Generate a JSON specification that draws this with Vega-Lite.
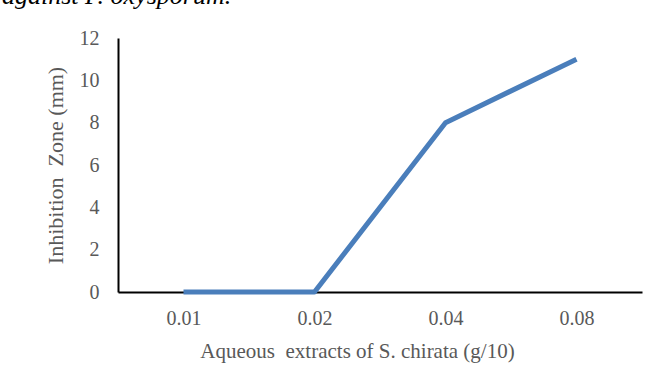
{
  "$schema": "https://vega.github.io/schema/vega-lite/v6.json",
  "autosize": "none",
  "width": 524,
  "height": 254,
  "padding": {"left": 118, "top": 38, "right": 23, "bottom": 100},
  "background": "white",
  "title": {
    "text": "against F. oxysporum.",
    "font": "Liberation Serif",
    "fontSize": 26,
    "fontStyle": "italic",
    "fontWeight": "normal",
    "color": "black",
    "anchor": "start",
    "baseline": "alphabetic",
    "offset": 0,
    "dx": -42,
    "dy": 2
  },
  "data": {
    "values": [
      {"conc": "0.01", "zone": 0},
      {"conc": "0.02", "zone": 0},
      {"conc": "0.04", "zone": 8},
      {"conc": "0.08", "zone": 11}
    ]
  },
  "mark": {"type": "line", "color": "#4a7ebb", "strokeWidth": 5, "strokeCap": "butt", "strokeJoin": "round"},
  "encoding": {
    "x": {
      "field": "conc",
      "type": "ordinal",
      "sort": null,
      "scale": {"type": "point", "padding": 0.5},
      "axis": {
        "title": "Aqueous\u00a0 extracts of S. chirata (g/10)",
        "labelAngle": 0,
        "ticks": false,
        "domainColor": "black",
        "domainWidth": 2,
        "labelPadding": 16,
        "titlePadding": 12,
        "titleX": 239,
        "titleAlign": "center",
        "labelFont": "Liberation Serif",
        "labelFontSize": 20,
        "labelColor": "#595959",
        "titleFont": "Liberation Serif",
        "titleFontSize": 21,
        "titleFontWeight": "normal",
        "titleColor": "#595959"
      }
    },
    "y": {
      "field": "zone",
      "type": "quantitative",
      "scale": {"domain": [0, 12]},
      "axis": {
        "title": "Inhibition\u00a0 Zone (mm)",
        "values": [0, 2, 4, 6, 8, 10, 12],
        "grid": false,
        "ticks": false,
        "domainColor": "black",
        "domainWidth": 2,
        "labelPadding": 19,
        "titlePadding": 12,
        "labelFont": "Liberation Serif",
        "labelFontSize": 20,
        "labelColor": "#595959",
        "titleFont": "Liberation Serif",
        "titleFontSize": 22,
        "titleFontWeight": "normal",
        "titleColor": "#595959"
      }
    }
  },
  "config": {"view": {"stroke": null}}
}
